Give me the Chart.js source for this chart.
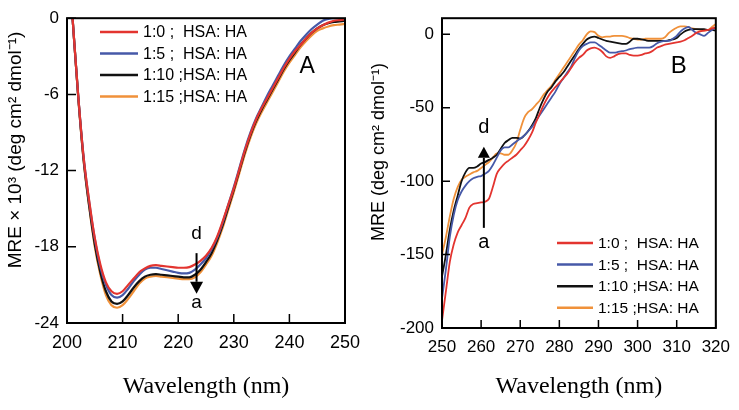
<!DOCTYPE html>
<html>
<head>
<meta charset="utf-8">
<script src="https://cdn.jsdelivr.net/npm/chart.js@4/dist/chart.umd.min.js"></script>
<style>
  body { margin: 0; background: #fff; }
  #wrap { position: relative; width: 739px; height: 410px; }
  canvas { position: absolute; top: 0; }
</style>
</head>
<body>
<div id="wrap">
  <canvas id="chartA" width="370" height="410" style="left:0"></canvas>
  <canvas id="chartB" width="369" height="410" style="left:370px"></canvas>
</div>
<script>
const seriesLabels = ['1:0 ;  HSA: HA', '1:5 ;  HSA: HA', '1:10 ;HSA: HA', '1:15 ;HSA: HA']
const seriesColors = ['#e3342f', '#4659a8', '#111111', '#f0913a']

// panel A, far UV (x 10^3)
const aWavelength = [201, 202, 203, 204, 205, 206, 207, 208, 209, 210,
  211, 212, 213, 214, 215, 216, 217, 218, 219, 220,
  221, 222, 223, 224, 225, 226, 227, 228, 229, 230,
  231, 232, 233, 234, 235, 236, 237, 238, 239, 240,
  241, 242, 243, 244, 245, 246, 247, 248, 249, 250]
const aRed = [0, -6, -11, -14.4, -17.3, -19.4, -20.8, -21.5, -21.7, -21.5,
  -21.0, -20.5, -20.0, -19.7, -19.5, -19.45, -19.5, -19.55, -19.6, -19.65,
  -19.65, -19.6, -19.4, -19.1, -18.7, -18.1, -17.2, -16.0, -14.7, -13.4,
  -11.9, -10.4, -9.1, -8.0, -7.1, -6.3, -5.5, -4.7, -3.9, -3.2,
  -2.6, -2.1, -1.6, -1.15, -0.8, -0.55, -0.35, -0.2, -0.15, -0.1]
const aBlue = [0, -6, -11, -14.5, -17.4, -19.6, -21.0, -21.8, -22.0, -21.8,
  -21.3, -20.7, -20.2, -19.8, -19.65, -19.65, -19.75, -19.85, -19.95, -20.05,
  -20.1, -20.05, -19.8, -19.4, -18.9, -18.2, -17.3, -16.1, -14.7, -13.3,
  -11.8, -10.3, -9.0, -7.9, -7.0, -6.1, -5.3, -4.5, -3.7, -3.0,
  -2.4, -1.8, -1.3, -0.85, -0.5, -0.2, -0.05, 0, 0, 0]
const aBlack = [0, -6.1, -11.2, -14.8, -17.8, -20.0, -21.5, -22.3, -22.5, -22.3,
  -21.8, -21.2, -20.7, -20.35, -20.2, -20.15, -20.2, -20.25, -20.3, -20.35,
  -20.4, -20.4, -20.2, -19.8, -19.2, -18.5, -17.5, -16.3, -14.9, -13.5,
  -12.0, -10.5, -9.2, -8.1, -7.2, -6.4, -5.6, -4.8, -4.0, -3.3,
  -2.7, -2.1, -1.6, -1.15, -0.8, -0.55, -0.4, -0.3, -0.25, -0.2]
const aOrange = [0, -6.1, -11.3, -14.9, -18.0, -20.2, -21.8, -22.6, -22.8, -22.6,
  -22.1, -21.5, -20.9, -20.5, -20.35, -20.3, -20.35, -20.4, -20.45, -20.5,
  -20.55, -20.55, -20.4, -20.0, -19.4, -18.7, -17.7, -16.5, -15.1, -13.7,
  -12.2, -10.7, -9.4, -8.3, -7.4, -6.6, -5.8, -5.0, -4.2, -3.5,
  -2.9, -2.3, -1.8, -1.35, -1.0, -0.8, -0.65, -0.55, -0.5, -0.45]
const aXTicks = [200, 210, 220, 230, 240, 250]
const aYTicks = [0, -6, -12, -18, -24]

// panel B, near UV
const bWavelength = [250, 251, 252, 253, 254, 255, 256, 257, 258, 259,
  260, 261, 262, 263, 264, 265, 266, 267, 268, 269,
  270, 271, 272, 273, 274, 275, 276, 277, 278, 279,
  280, 281, 282, 283, 284, 285, 286, 287, 288, 289,
  290, 291, 292, 293, 294, 295, 296, 297, 298, 299,
  300, 301, 302, 303, 304, 305, 306, 307, 308, 309,
  310, 311, 312, 313, 314, 315, 316, 317, 318, 319, 320]
const bRed = [-195, -175, -155, -143, -135, -130, -125, -118, -115.5, -115,
  -114.5, -114, -112, -104, -95, -91, -88, -86, -84, -82,
  -79, -76, -72, -67, -60, -54, -48, -43, -39, -36,
  -33, -30, -27, -23, -19, -16, -14, -11, -9.5, -9,
  -10, -12, -15, -16, -15, -13.5, -13, -13, -14, -14.5,
  -14.5, -14, -13, -12.5, -11, -9, -8, -7, -6.5, -6,
  -5.5, -5, -4, -2.5, -1, 1, 2, 2.5, 3, 4, 4.5]
const bBlue = [-180, -160, -138, -123, -113, -107, -103, -100, -98, -97,
  -96.5, -95, -93, -89, -84, -79, -77, -77, -75, -73,
  -71, -69, -66, -63, -59, -55, -51, -47, -43, -39,
  -34, -30, -26, -22, -16, -11, -8, -6.5, -5.5, -5.5,
  -7, -9, -11, -12.5, -12.5, -12, -11.5, -11, -10, -9.5,
  -9, -9, -9, -9, -8, -6, -5, -4.5, -4.5, -3,
  -1, 2, 4, 5, 3, 1, 0, -1, 1, 3, 5]
const bBlack = [-165, -150, -133, -120, -110, -100, -94, -91, -91, -90,
  -88, -87, -85.5, -84, -82, -78, -74, -72, -70.5, -70.5,
  -71, -69, -66, -62, -57, -50, -44, -39, -36, -32,
  -29, -26, -22, -18, -14, -10, -6.5, -3.5, -2, -1.5,
  -2.5, -3.5, -4.5, -5, -5.5, -6, -6.5, -6.5, -5, -3,
  -3, -3.5, -4, -4.5, -4.5, -4.5, -4.5, -4.5, -4, -3.5,
  -2.5, 0, 2, 3, 3.5, 3.5, 3.5, 3.5, 3, 3, 2.5]
const bOrange = [-150, -138, -124, -112, -104, -99, -97, -95.5, -94, -93,
  -91, -89, -87, -84, -81, -81, -82, -82, -79, -74,
  -65, -57, -53, -51, -48, -45, -41, -38, -35, -31,
  -27, -23, -19, -15, -11, -7, -4, 0, 2, 1.5,
  -1, -2, -1.5, -1.5, -1, -1, -1, -1.5, -2.5, -3,
  -3.5, -3.5, -3, -3, -3, -3, -3, -2, 1, 3,
  4.5, 5.5, 5.5, 5, 4, 3.5, 3, 2.5, 3, 5, 7]
const bXTicks = [250, 260, 270, 280, 290, 300, 310, 320]
const bYTicks = [0, -50, -100, -150, -200]

const SANS = "'Liberation Sans', Arial, sans-serif"
const SERIF = "'Liberation Serif', 'Times New Roman', serif"

// box, inward ticks, rotated y title, legend, panel letter and arrow
const panelDecor = {
  id: 'panelDecor',
  afterDraw(chart, args, o) {
    const { ctx, chartArea: area, scales: { x, y } } = chart
    ctx.save()
    ctx.strokeStyle = '#000'
    ctx.fillStyle = '#000'

    ctx.lineWidth = 1.5
    ctx.beginPath()
    x.ticks.forEach(t => {
      const px = x.getPixelForValue(t.value)
      ctx.moveTo(px, area.bottom)
      ctx.lineTo(px, area.bottom - o.tickLen)
    })
    y.ticks.forEach(t => {
      const py = y.getPixelForValue(t.value)
      ctx.moveTo(area.left, py)
      ctx.lineTo(area.left + o.tickLen, py)
    })
    ctx.stroke()

    ctx.lineWidth = 2
    ctx.strokeRect(area.left, area.top, area.right - area.left, area.bottom - area.top)

    // y title
    ctx.save()
    ctx.translate(o.yTitle.x, o.yTitle.y)
    ctx.rotate(-Math.PI / 2)
    ctx.font = o.yTitle.size + 'px ' + SANS
    ctx.textAlign = 'center'
    ctx.textBaseline = 'middle'
    ctx.fillText(o.yTitle.text, 0, 0)
    ctx.restore()

    // legend
    const lg = o.legend
    ctx.font = lg.size + 'px ' + SANS
    ctx.textAlign = 'left'
    ctx.textBaseline = 'middle'
    chart.data.datasets.forEach((ds, i) => {
      const ly = lg.y + i * lg.gap
      ctx.strokeStyle = ds.borderColor
      ctx.lineWidth = 2.5
      ctx.beginPath()
      ctx.moveTo(lg.x0, ly)
      ctx.lineTo(lg.x1, ly)
      ctx.stroke()
      ctx.fillStyle = '#000'
      ctx.fillText(ds.label, lg.x1 + 5, ly + 1)
    })

    // panel letter
    ctx.font = o.letter.size + 'px ' + SANS
    ctx.textAlign = 'center'
    ctx.fillText(o.letter.text, x.getPixelForValue(o.letter.x), y.getPixelForValue(o.letter.y))

    // arrow from a to d
    const ar = o.arrow
    const ax = x.getPixelForValue(ar.x)
    const y0 = y.getPixelForValue(ar.from)
    const y1 = y.getPixelForValue(ar.to)
    const dir = y1 > y0 ? 1 : -1
    ctx.strokeStyle = '#000'
    ctx.lineWidth = 2
    ctx.beginPath()
    ctx.moveTo(ax, y0)
    ctx.lineTo(ax, y1 - dir * ar.head)
    ctx.stroke()
    ctx.beginPath()
    ctx.moveTo(ax, y1)
    ctx.lineTo(ax - ar.half, y1 - dir * ar.head)
    ctx.lineTo(ax + ar.half, y1 - dir * ar.head)
    ctx.closePath()
    ctx.fill()
    ctx.font = ar.size + 'px ' + SANS
    ctx.fillText('d', ax, y.getPixelForValue(ar.dY))
    ctx.fillText('a', ax, y.getPixelForValue(ar.aY))

    ctx.restore()
  }
}

function makeDatasets(wl, series, width) {
  return series.map((vals, i) => ({
    label: seriesLabels[i],
    data: wl.map((w, j) => ({ x: w, y: vals[j] })),
    borderColor: seriesColors[i],
    borderWidth: width,
    pointRadius: 0,
    cubicInterpolationMode: 'monotone',
    fill: false
  }))
}

function axis(min, max, tickVals, fontSize, pad, extra) {
  return Object.assign({
    type: 'linear',
    min: min,
    max: max,
    grid: { display: false, drawTicks: false },
    border: { display: false },
    afterBuildTicks: s => { s.ticks = tickVals.map(v => ({ value: v })) },
    ticks: {
      color: '#000',
      font: { family: SANS, size: fontSize },
      padding: pad,
      autoSkip: false,
      maxRotation: 0
    }
  }, extra)
}

const xTitle = {
  display: true,
  text: 'Wavelength (nm)',
  color: '#000',
  font: { family: SERIF, size: 24 },
  padding: { top: 0, bottom: 9 }
}

new Chart(document.getElementById('chartA'), {
  type: 'line',
  data: { datasets: makeDatasets(aWavelength, [aRed, aBlue, aBlack, aOrange], 2.2) },
  plugins: [panelDecor],
  options: {
    responsive: false,
    animation: false,
    layout: { padding: { left: 0, top: 13, right: 25, bottom: 0 } },
    scales: {
      x: axis(200, 250, aXTicks, 18, 9, {
        title: xTitle,
        afterFit: s => { s.height = 87 }
      }),
      y: axis(-24, 0, aYTicks, 17, 8, {
        afterFit: s => { s.width = 67 }
      })
    },
    plugins: {
      legend: { display: false },
      tooltip: { enabled: false },
      panelDecor: {
        tickLen: 9,
        yTitle: { text: 'MRE × 10³ (deg cm² dmol⁻¹)', x: 16, y: 150, size: 19 },
        legend: { x0: 100, x1: 138, y: 32, gap: 21.5, size: 16 },
        letter: { text: 'A', x: 243.2, y: -3.8, size: 23 },
        arrow: { x: 223.3, from: -18.5, to: -21.7, head: 12, half: 6.5, dY: -17.0, aY: -22.4, size: 19 }
      }
    }
  }
})

new Chart(document.getElementById('chartB'), {
  type: 'line',
  data: { datasets: makeDatasets(bWavelength, [bRed, bBlue, bBlack, bOrange], 1.8) },
  plugins: [panelDecor],
  options: {
    responsive: false,
    animation: false,
    layout: { padding: { left: 0, top: 18, right: 19, bottom: 0 } },
    scales: {
      x: axis(250, 320, bXTicks, 17, 9, {
        title: xTitle,
        afterFit: s => { s.height = 82 }
      }),
      y: axis(-200, 11, bYTicks, 17, 8, {
        afterFit: s => { s.width = 72 }
      })
    },
    plugins: {
      legend: { display: false },
      tooltip: { enabled: false },
      panelDecor: {
        tickLen: 8,
        yTitle: { text: 'MRE (deg cm² dmol⁻¹)', x: 9, y: 152, size: 18 },
        legend: { x0: 187, x1: 223, y: 243, gap: 21.6, size: 15.5 },
        letter: { text: 'B', x: 310.5, y: -21.6, size: 24 },
        arrow: { x: 260.7, from: -131.8, to: -76.6, head: 11, half: 6, dY: -63.2, aY: -142, size: 20 }
      }
    }
  }
})
</script>
</body>
</html>
